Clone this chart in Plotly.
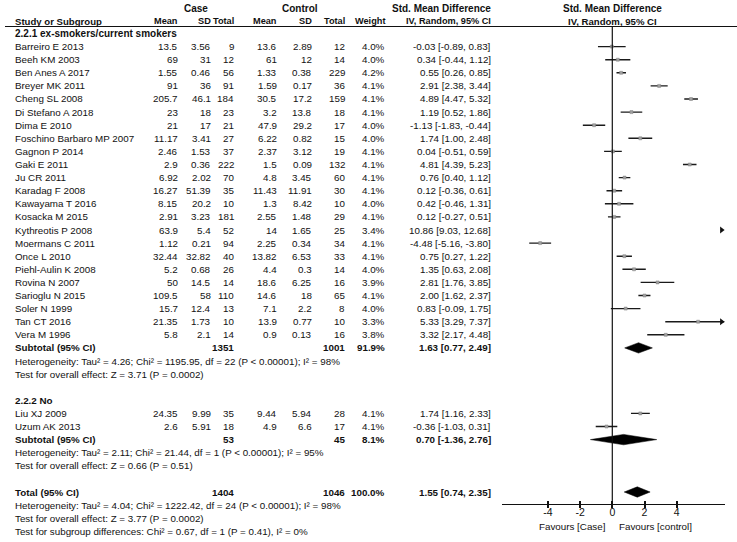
import plotly.graph_objects as go

W, H = 737, 542
FONT = "Liberation Sans, Arial, sans-serif"

# ---------------- data ----------------
studies1 = ["Barreiro E 2013", "Beeh KM 2003", "Ben Anes A 2017", "Breyer MK 2011", "Cheng SL 2008",
            "Di Stefano A 2018", "Dima E 2010", "Foschino Barbaro MP 2007", "Gagnon P 2014", "Gaki E 2011",
            "Ju CR 2011", "Karadag F 2008", "Kawayama T 2016", "Kosacka M 2015", "Kythreotis P 2008",
            "Moermans C 2011", "Once L 2010", "Piehl-Aulin K 2008", "Rovina N 2007", "Sarioglu N 2015",
            "Soler N 1999", "Tan CT 2016", "Vera M 1996"]
case_mean1 = ["13.5", "69", "1.55", "91", "205.7", "23", "21", "11.17", "2.46", "2.9", "6.92", "16.27", "8.15",
              "2.91", "63.9", "1.12", "32.44", "5.2", "50", "109.5", "15.7", "21.35", "5.8"]
case_sd1 = ["3.56", "31", "0.46", "36", "46.1", "18", "17", "3.41", "1.53", "0.36", "2.02", "51.39", "20.2",
            "3.23", "5.4", "0.21", "32.82", "0.68", "14.5", "58", "12.4", "1.73", "2.1"]
case_n1 = [9, 12, 56, 91, 184, 23, 21, 27, 37, 222, 70, 35, 10, 181, 52, 94, 40, 26, 14, 110, 13, 10, 14]
ctrl_mean1 = ["13.6", "61", "1.33", "1.59", "30.5", "3.2", "47.9", "6.22", "2.37", "1.5", "4.8", "11.43", "1.3",
              "2.55", "14", "2.25", "13.82", "4.4", "18.6", "14.6", "7.1", "13.9", "0.9"]
ctrl_sd1 = ["2.89", "12", "0.38", "0.17", "17.2", "13.8", "29.2", "0.82", "3.12", "0.09", "3.45", "11.91", "8.42",
            "1.48", "1.65", "0.34", "6.53", "0.3", "6.25", "18", "2.2", "0.77", "0.13"]
ctrl_n1 = [12, 14, 229, 36, 159, 18, 17, 15, 19, 132, 60, 30, 10, 29, 25, 34, 33, 14, 16, 65, 8, 10, 16]
weight1 = [4.0, 4.0, 4.2, 4.1, 4.1, 4.1, 4.0, 4.0, 4.1, 4.1, 4.1, 4.1, 4.0, 4.1, 3.4, 4.1, 4.1, 4.0, 3.9, 4.1,
           4.0, 3.3, 3.8]
smd1 = [-0.03, 0.34, 0.55, 2.91, 4.89, 1.19, -1.13, 1.74, 0.04, 4.81, 0.76, 0.12, 0.42, 0.12, 10.86, -4.48,
        0.75, 1.35, 2.81, 2.00, 0.83, 5.33, 3.32]
lo1 = [-0.89, -0.44, 0.26, 2.38, 4.47, 0.52, -1.83, 1.00, -0.51, 4.39, 0.40, -0.36, -0.46, -0.27, 9.03, -5.16,
       0.27, 0.63, 1.76, 1.62, -0.09, 3.29, 2.17]
hi1 = [0.83, 1.12, 0.85, 3.44, 5.32, 1.86, -0.44, 2.48, 0.59, 5.23, 1.12, 0.61, 1.31, 0.51, 12.68, -3.80,
       1.22, 2.08, 3.85, 2.37, 1.75, 7.37, 4.48]

studies2 = ["Liu XJ 2009", "Uzum AK 2013"]
case_mean2 = ["24.35", "2.6"]
case_sd2 = ["9.99", "5.91"]
case_n2 = [35, 18]
ctrl_mean2 = ["9.44", "4.9"]
ctrl_sd2 = ["5.94", "6.6"]
ctrl_n2 = [28, 17]
weight2 = [4.1, 4.1]
smd2 = [1.74, -0.36]
lo2 = [1.16, -1.03]
hi2 = [2.33, 0.31]

# subtotal / total: [case total, control total, weight, est, lo, hi]
sub1 = [1351, 1001, 91.9, 1.63, 0.77, 2.49]
sub2 = [53, 45, 8.1, 0.70, -1.36, 2.76]
total = [1404, 1046, 100.0, 1.55, 0.74, 2.35]

group1_label = "2.2.1 ex-smokers/current smokers"
group2_label = "2.2.2 No"
het1 = "Heterogeneity: Tau² = 4.26; Chi² = 1195.95, df = 22 (P < 0.00001); I² = 98%"
eff1 = "Test for overall effect: Z = 3.71 (P = 0.0002)"
het2 = "Heterogeneity: Tau² = 2.11; Chi² = 21.44, df = 1 (P < 0.00001); I² = 95%"
eff2 = "Test for overall effect: Z = 0.66 (P = 0.51)"
het_t = "Heterogeneity: Tau² = 4.04; Chi² = 1222.42, df = 24 (P < 0.00001); I² = 98%"
eff_t = "Test for overall effect: Z = 3.77 (P = 0.0002)"
subgrp = "Test for subgroup differences: Chi² = 0.67, df = 1 (P = 0.41), I² = 0%"

tick_vals = [-4, -2, 0, 2, 4]
tick_text = ["-4", "-2", "0", "2", "4"]
favours_left = "Favours [Case]"
favours_right = "Favours [control]"

# ---------------- layout geometry (pixels) ----------------
ROW0, ROWH = 33.5, 13.1
def ry(i):
    return ROW0 + ROWH * i

X_NAME = 13
X_CM, X_CSD, X_CN = 180, 212.5, 235.5
X_KM, X_KSD, X_KN = 279, 313.5, 347
X_W = 387
X_SMD = 493
AX_L, AX_R = 501.7, 724.5
ZERO_PX, UNIT_PX = 612.3, 16.1
XMIN = (AX_L - ZERO_PX) / UNIT_PX
XMAX = (AX_R - ZERO_PX) / UNIT_PX
AXIS_Y = 504.3
HEADER_LINE_Y = 26.5

TXT = "#111111"
FS = 9.8
annotations = []

def txt(x, y, s, anchor="left", bold=False, size=FS):
    if bold:
        s = "<b>" + s + "</b>"
    annotations.append(dict(x=x / W, y=1 - y / H, xref="paper", yref="paper", text=s, showarrow=False,
                            xanchor=anchor, yanchor="middle",
                            font=dict(family=FONT, size=size, color=TXT)))

def fmt_ci(e, l, h):
    return f"{e:.2f} [{l:.2f}, {h:.2f}]"

# headers
txt(196, 8, "Case", "center", True, 10)
txt(300, 8, "Control", "center", True, 10)
txt(441, 8, "Std. Mean Difference", "center", True, 10)
txt(612, 8, "Std. Mean Difference", "center", True, 10)
hy = 21
txt(X_NAME, hy, "Study or Subgroup", "left", True, 9.6)
for xx, s in [(X_CM, "Mean"), (X_CSD, "SD"), (X_CN, "Total"), (X_KM, "Mean"), (X_KSD, "SD"),
              (X_KN, "Total"), (X_W, "Weight"), (X_SMD, "IV, Random, 95% CI")]:
    txt(xx, hy, s, "right", True, 9.2)
txt(612, hy, "IV, Random, 95% CI", "center", True, 9.6)

def study_rows(start, names, cm, csd, cn, km, ksd, kn, w, e, l, h):
    for k, nm in enumerate(names):
        y = ry(start + k)
        txt(X_NAME, y, nm)
        txt(X_CM, y, cm[k], "right")
        txt(X_CSD, y, csd[k], "right")
        txt(X_CN, y, str(cn[k]), "right")
        txt(X_KM, y, km[k], "right")
        txt(X_KSD, y, ksd[k], "right")
        txt(X_KN, y, str(kn[k]), "right")
        txt(X_W, y, f"{w[k]:.1f}%", "right")
        txt(X_SMD, y, fmt_ci(e[k], l[k], h[k]), "right")

def summary_row(i, label, vals):
    y = ry(i)
    txt(X_NAME, y, label, "left", True)
    txt(X_CN, y, str(vals[0]), "right", True)
    txt(X_KN, y, str(vals[1]), "right", True)
    txt(X_W, y, f"{vals[2]:.1f}%", "right", True)
    txt(X_SMD, y, fmt_ci(vals[3], vals[4], vals[5]), "right", True)

txt(X_NAME, ry(0), group1_label, "left", True, 10)
study_rows(1, studies1, case_mean1, case_sd1, case_n1, ctrl_mean1, ctrl_sd1, ctrl_n1, weight1, smd1, lo1, hi1)
summary_row(24, "Subtotal (95% CI)", sub1)
txt(X_NAME, ry(25), het1)
txt(X_NAME, ry(26), eff1)
txt(X_NAME, ry(28), group2_label, "left", True)
study_rows(29, studies2, case_mean2, case_sd2, case_n2, ctrl_mean2, ctrl_sd2, ctrl_n2, weight2, smd2, lo2, hi2)
summary_row(31, "Subtotal (95% CI)", sub2)
txt(X_NAME, ry(32), het2)
txt(X_NAME, ry(33), eff2)
summary_row(35, "Total (95% CI)", total)
txt(X_NAME, ry(36), het_t)
txt(X_NAME, ry(37), eff_t)
txt(X_NAME, ry(38), subgrp)

txt(607.5, 526.5, favours_left, "right")
txt(616.5, 526.5, favours_right, "left")

# ---------------- forest marks ----------------
fig = go.Figure()
all_e = smd1 + smd2
all_l = lo1 + lo2
all_h = hi1 + hi2
all_rows = list(range(1, 24)) + [29, 30]

lx, ly, px, py, ax_, ay_ = [], [], [], [], [], []
for e, l, h, r in zip(all_e, all_l, all_h, all_rows):
    y = ry(r)
    a, b = max(l, XMIN), min(h, XMAX)
    if a < b:
        lx += [a, b, None]
        ly += [y, y, None]
    if XMIN <= e <= XMAX:
        px.append(e)
        py.append(y)
    if h > XMAX:
        ax_.append(XMAX - 0.18)
        ay_.append(y)

fig.add_trace(go.Scatter(x=lx, y=ly, mode="lines", line=dict(color="#1a1a1a", width=1.4),
                         hoverinfo="skip", showlegend=False))
fig.add_trace(go.Scatter(x=px, y=py, mode="markers",
                         marker=dict(symbol="square", size=3, color="#a0a0a0",
                                     line=dict(color="#808080", width=0.5)),
                         hoverinfo="skip", showlegend=False))
fig.add_trace(go.Scatter(x=ax_, y=ay_, mode="markers", cliponaxis=False,
                         marker=dict(symbol="triangle-right", size=6, color="#111111"),
                         hoverinfo="skip", showlegend=False))

DH = 5.2
for vals, r in [(sub1, 24), (sub2, 31), (total, 35)]:
    e, l, h = vals[3], vals[4], vals[5]
    y = ry(r)
    fig.add_trace(go.Scatter(x=[l, e, h, e, l], y=[y, y - DH, y, y + DH, y], mode="lines",
                             fill="toself", fillcolor="#000000", line=dict(color="#000000", width=0.5),
                             hoverinfo="skip", showlegend=False))

# helper trace so that the overlay axis (upper halves of the ticks) exists
fig.add_trace(go.Scatter(x=tick_vals, y=[None] * len(tick_vals), xaxis="x2", mode="markers",
                         hoverinfo="skip", showlegend=False))

shapes = [
    dict(type="line", xref="paper", yref="paper", x0=5 / W, x1=1, y0=1 - HEADER_LINE_Y / H,
         y1=1 - HEADER_LINE_Y / H, line=dict(color="#111111", width=1.2)),
    dict(type="line", xref="x", yref="y", x0=0, x1=0, y0=HEADER_LINE_Y, y1=AXIS_Y,
         line=dict(color="#111111", width=1.2)),
]

fig.update_layout(
    width=W, height=H,
    margin=dict(l=0, r=0, t=0, b=0),
    paper_bgcolor="white", plot_bgcolor="rgba(0,0,0,0)",
    showlegend=False,
    annotations=annotations,
    shapes=shapes,
    xaxis=dict(domain=[AX_L / W, AX_R / W], range=[XMIN, XMAX], anchor="free", position=1 - AXIS_Y / H,
               showline=True, linecolor="#111111", linewidth=1.2, ticks="outside", ticklen=3,
               tickcolor="#111111", tickwidth=1.5, tickvals=tick_vals, ticktext=tick_text,
               tickfont=dict(family=FONT, size=10.5, color=TXT), ticklabelstandoff=-5,
               showgrid=False, zeroline=False, fixedrange=True),
    xaxis2=dict(domain=[AX_L / W, AX_R / W], range=[XMIN, XMAX], anchor="free", position=1 - AXIS_Y / H,
                overlaying="x", matches="x", showline=False, ticks="inside", ticklen=3,
                tickcolor="#111111", tickwidth=1.5, tickvals=tick_vals, showticklabels=False,
                showgrid=False, zeroline=False, fixedrange=True),
    yaxis=dict(domain=[0, 1], range=[H, 0], visible=False, fixedrange=True),
)

fig.write_html("out.html", config={"displayModeBar": False},
               post_script="document.body.style.margin='0';")
